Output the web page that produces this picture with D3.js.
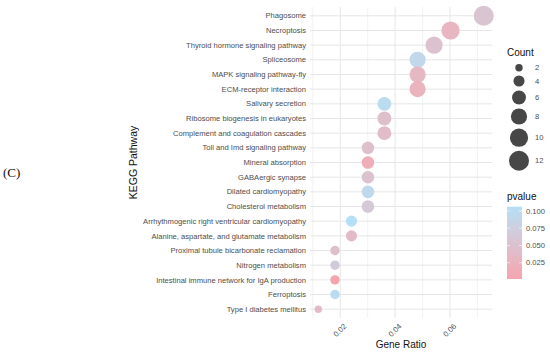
<!DOCTYPE html>
<html>
<head>
<meta charset="utf-8">
<script src="https://cdn.jsdelivr.net/npm/d3@7"></script>
<style>
  body { margin: 0; background: #fff; }
  svg { font-family: "Liberation Sans", Arial, sans-serif; }
</style>
</head>
<body>
<svg id="chart" width="550" height="353"></svg>
<script>
// data
const pathways = [
  "Phagosome", "Necroptosis", "Thyroid hormone signaling pathway", "Spliceosome",
  "MAPK signaling pathway-fly", "ECM-receptor interaction", "Salivary secretion",
  "Ribosome biogenesis in eukaryotes", "Complement and coagulation cascades",
  "Toll and Imd signaling pathway", "Mineral absorption", "GABAergic synapse",
  "Dilated cardiomyopathy", "Cholesterol metabolism",
  "Arrhythmogenic right ventricular cardiomyopathy",
  "Alanine, aspartate, and glutamate metabolism",
  "Proximal tubule bicarbonate reclamation", "Nitrogen metabolism",
  "Intestinal immune network for IgA production", "Ferroptosis", "Type I diabetes mellitus"
];
const counts = [12, 10, 9, 8, 8, 8, 6, 6, 6, 5, 5, 5, 5, 5, 4, 4, 3, 3, 3, 3, 2];
const geneRatio = [0.0723, 0.0602, 0.0542, 0.0482, 0.0482, 0.0482, 0.0361, 0.0361, 0.0361,
  0.0301, 0.0301, 0.0301, 0.0301, 0.0301, 0.0241, 0.0241, 0.0181, 0.0181, 0.0181, 0.0181, 0.0120];
const pvalues = [0.056, 0.030, 0.051, 0.090, 0.035, 0.025, 0.098, 0.047, 0.041,
  0.047, 0.015, 0.051, 0.092, 0.062, 0.106, 0.039, 0.047, 0.066, 0.0015, 0.100, 0.037];
const xMajorTicks = [0.02, 0.04, 0.06];
const xMinorTicks = [0.01, 0.03, 0.05, 0.07];
const sizeBreaks = [2, 4, 6, 8, 10, 12];
const pvalueBreaks = [0.025, 0.05, 0.075, 0.1];

const panel = { left: 310, right: 492, top: 7, bottom: 318 };
const lowColor = "#F5A5AE";
const highColor = "#B4DFF5";
const textGrey = "#4d4d4d";

const data = pathways.map(function(p, i) {
  return { pathway: p, count: counts[i], ratio: geneRatio[i], p: pvalues[i] };
});

const svg = d3.select("#chart");

// x scale with ggplot style 5% expansion
const ext = d3.extent(geneRatio);
const pad = (ext[1] - ext[0]) * 0.05;
const x = d3.scaleLinear()
  .domain([ext[0] - pad, ext[1] + pad])
  .range([panel.left, panel.right]);

const y = d3.scalePoint()
  .domain(pathways)
  .range([panel.top, panel.bottom])
  .padding(0.6);

// size: area linear between radii
const areaScale = d3.scaleLinear()
  .domain(d3.extent(counts))
  .range([3.7 * 3.7, 10 * 10]);
const radius = function(c) { return Math.sqrt(areaScale(c)); };

const color = d3.scaleLinear()
  .domain(d3.extent(pvalues))
  .range([lowColor, highColor])
  .interpolate(d3.interpolateLab);

// grid
const grid = svg.append("g");
grid.selectAll(".minor")
  .data(xMinorTicks)
  .join("line")
  .attr("x1", d => x(d)).attr("x2", d => x(d))
  .attr("y1", panel.top).attr("y2", panel.bottom)
  .attr("stroke", "#ebebeb").attr("stroke-width", 0.6);
grid.selectAll(".major")
  .data(xMajorTicks)
  .join("line")
  .attr("x1", d => x(d)).attr("x2", d => x(d))
  .attr("y1", panel.top).attr("y2", panel.bottom)
  .attr("stroke", "#e6e6e6").attr("stroke-width", 1);
grid.selectAll(".hline")
  .data(pathways)
  .join("line")
  .attr("x1", panel.left).attr("x2", panel.right)
  .attr("y1", d => y(d)).attr("y2", d => y(d))
  .attr("stroke", "#e6e6e6").attr("stroke-width", 1);

// points
svg.append("g")
  .selectAll("circle")
  .data(data)
  .join("circle")
  .attr("cx", d => x(d.ratio))
  .attr("cy", d => y(d.pathway))
  .attr("r", d => radius(d.count))
  .attr("fill", d => color(d.p));

// y axis labels
svg.append("g")
  .selectAll("text")
  .data(pathways)
  .join("text")
  .attr("x", panel.left - 4)
  .attr("y", d => y(d))
  .attr("dy", "0.35em")
  .attr("text-anchor", "end")
  .attr("font-size", 7.6)
  .attr("fill", textGrey)
  .text(d => d);

// x axis labels, rotated 45
svg.append("g")
  .selectAll("text")
  .data(xMajorTicks)
  .join("text")
  .attr("transform", d => "translate(" + (x(d) + 3) + "," + (panel.bottom + 5) + ") rotate(-45)")
  .attr("text-anchor", "end")
  .attr("dy", "0.7em")
  .attr("font-size", 7.6)
  .attr("fill", textGrey)
  .text(d => d3.format(".2f")(d));

// axis titles
svg.append("text")
  .attr("x", (panel.left + panel.right) / 2)
  .attr("y", 348)
  .attr("text-anchor", "middle")
  .attr("font-size", 10)
  .attr("fill", "#111")
  .text("Gene Ratio");

svg.append("text")
  .attr("transform", "translate(137," + ((panel.top + panel.bottom) / 2) + ") rotate(-90)")
  .attr("text-anchor", "middle")
  .attr("font-size", 10.5)
  .attr("fill", "#111")
  .text("KEGG Pathway");

// panel tag
svg.append("text")
  .attr("x", 3)
  .attr("y", 177)
  .attr("font-family", "'Liberation Serif', 'Times New Roman', serif")
  .attr("font-size", 13)
  .attr("fill", "#111")
  .text("(C)");

// Count legend
const legendX = 507;
svg.append("text")
  .attr("x", legendX)
  .attr("y", 56)
  .attr("font-size", 10)
  .attr("fill", "#111")
  .text("Count");

let keyY = 62;
sizeBreaks.forEach(function(c) {
  const r = radius(c);
  const h = 2 * r + 4;
  const cy = keyY + h / 2;
  svg.append("circle")
    .attr("cx", 519)
    .attr("cy", cy)
    .attr("r", r)
    .attr("fill", "#474747");
  svg.append("text")
    .attr("x", 535)
    .attr("y", cy)
    .attr("dy", "0.35em")
    .attr("font-size", 7.6)
    .attr("fill", textGrey)
    .text(c);
  keyY += h;
});

// pvalue legend
svg.append("text")
  .attr("x", legendX)
  .attr("y", 200)
  .attr("font-size", 10)
  .attr("fill", "#111")
  .text("pvalue");

const barTop = 206.7, barBottom = 279, barW = 15;
const grad = svg.append("defs").append("linearGradient")
  .attr("id", "pgrad")
  .attr("x1", 0).attr("y1", 1).attr("x2", 0).attr("y2", 0);
d3.range(0, 1.0001, 0.1).forEach(function(t) {
  const pd = color.domain();
  grad.append("stop")
    .attr("offset", t)
    .attr("stop-color", color(pd[0] + t * (pd[1] - pd[0])));
});
svg.append("rect")
  .attr("x", legendX)
  .attr("y", barTop)
  .attr("width", barW)
  .attr("height", barBottom - barTop)
  .attr("fill", "url(#pgrad)");

const barScale = d3.scaleLinear()
  .domain(color.domain())
  .range([barBottom, barTop]);

pvalueBreaks.forEach(function(v) {
  const by = barScale(v);
  svg.append("line")
    .attr("x1", legendX).attr("x2", legendX + 3)
    .attr("y1", by).attr("y2", by)
    .attr("stroke", "#fff").attr("stroke-width", 0.6);
  svg.append("line")
    .attr("x1", legendX + barW - 3).attr("x2", legendX + barW)
    .attr("y1", by).attr("y2", by)
    .attr("stroke", "#fff").attr("stroke-width", 0.6);
  svg.append("text")
    .attr("x", 526)
    .attr("y", by)
    .attr("dy", "0.35em")
    .attr("font-size", 7.6)
    .attr("fill", textGrey)
    .text(d3.format(".3f")(v));
});
</script>
</body>
</html>
